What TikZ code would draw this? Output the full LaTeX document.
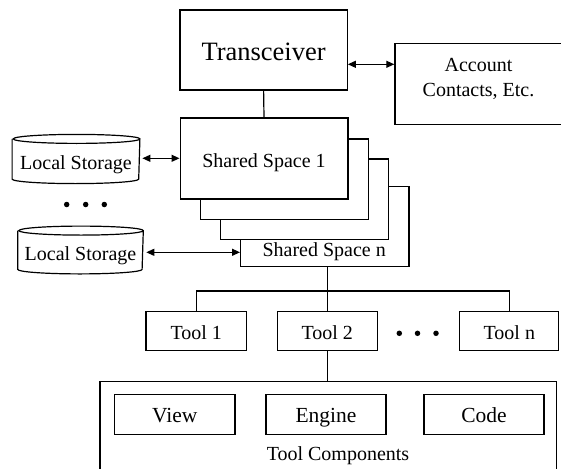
\documentclass[tikz,border=0pt]{standalone}
\usepackage{fontspec}
\setmainfont{Liberation Serif}
\usetikzlibrary{arrows.meta,calc}
\newcommand{\lscyl}[2]{\draw ([yshift=-4.5pt]#1.north west) -- ([yshift=4.5pt]#1.south west) arc[start angle=180,end angle=360,x radius=#2,y radius=4.5pt] -- ([yshift=-4.5pt]#1.north east) arc[start angle=0,end angle=360,x radius=#2,y radius=4.5pt];}
\begin{document}
\begin{tikzpicture}[x=1pt,y=-1pt, line width=1.2pt,
 box/.style={draw, fill=white, rectangle, inner sep=0pt},
 ft/.style={font=\fontsize{20pt}{25pt}\selectfont},
 bigft/.style={font=\fontsize{21.5pt}{26pt}\selectfont, text height=19.8pt, text depth=3pt},
 dbl/.style={{Triangle[length=8pt,width=7pt]}-{Triangle[length=8pt,width=7pt]}},
 dot/.style={circle, fill=black, inner sep=0pt, minimum size=5.5pt}]
\clip (0,0) rectangle (561,468);
% top
\node[box, minimum width=167.3pt, minimum height=80pt, font=\fontsize{26.5pt}{30pt}\selectfont, text height=25pt, text depth=3pt] (trans) at (263.6,50) {Transceiver};
\node[box, minimum width=220pt, minimum height=80.7pt, anchor=north west] (acct) at (394.3,43.3) {};
\node[ft, anchor=base] (acct1) at (478.5,71.7) {Account};
\node[ft, anchor=base] (acct2) at (478.5,96.7) {Contacts, Etc.};
% shared spaces (back to front)
\node[box, minimum width=168.3pt, minimum height=80pt, anchor=north west] (ssn) at (240,185.7) {};
\node[box, minimum width=168.2pt, minimum height=80.7pt, anchor=north west] (ss3) at (219.5,158.3) {};
\node[box, minimum width=168.2pt, minimum height=80.7pt, anchor=north west] (ss2) at (199.5,138.3) {};
\node[box, ft, text height=21.4pt, text depth=3pt, minimum width=167.8pt, minimum height=81pt, anchor=north west] (ss1) at (179.5,117.3) {Shared Space 1};
\node[ft, anchor=base] (ssntxt) at (324.2,256.7) {Shared Space n};
% local storage
\node[ft, text height=23pt, text depth=3pt, minimum width=126.6pt, minimum height=48pt, inner sep=0pt] (ls1) at (76,159) {Local Storage};
\lscyl{ls1}{63.3pt}
\node[ft, text height=23pt, text depth=3pt, minimum width=124.4pt, minimum height=46.6pt, inner sep=0pt] (ls2) at (80.5,250) {Local Storage};
\lscyl{ls2}{62.2pt}
\node[dot] (ld1) at (66.7,204.5) {};
\node[dot] (ld2) at (85.7,204.5) {};
\node[dot] (ld3) at (104.3,204.5) {};
% connectors top
\draw[dbl] ([yshift=-14.3pt]trans.east) -- ([yshift=-14.3pt]trans.east -| acct.west);
\draw (trans.south) -- (ss1.north);
\draw[dbl, shorten <=2.5pt] ([yshift=0.7pt]ls1.east) -- ([yshift=0.7pt]ls1.east -| ss1.west);
\draw[dbl, shorten <=3pt] ([yshift=-2.3pt]ls2.east) -- ([yshift=-2.3pt]ls2.east -| ssn.west);
% tools
\node[box, ft, text height=19.6pt, text depth=3pt, minimum width=100.7pt, minimum height=39.5pt] (tool1) at (196.3,331) {Tool 1};
\node[box, ft, text height=19.6pt, text depth=3pt, minimum width=100pt, minimum height=39.5pt] (tool2) at (327.2,331) {Tool 2};
\node[box, ft, text height=19.6pt, text depth=3pt, minimum width=99pt, minimum height=39.5pt] (tooln) at (509.3,331) {Tool n};
\node[dot] (td1) at (399.3,333.3) {};
\node[dot] (td2) at (417.5,333.3) {};
\node[dot] (td3) at (436,333.3) {};
\coordinate (bus) at (327.2,291);
\draw (ssn.south -| tool2.north) -- (tool2.north);
\draw (tool1.north) |- (bus) -| (tooln.north);
% tool components
\node[box, minimum width=456.7pt, minimum height=120pt, anchor=north west] (tc) at (99.3,381) {};
\draw (tool2.south) -- (tc.north -| tool2.south);
\node[box, bigft, minimum width=120.5pt, minimum height=40pt] (view) at (174.8,414.3) {View};
\node[box, bigft, minimum width=120pt, minimum height=40pt] (engine) at (326,414.3) {Engine};
\node[box, bigft, minimum width=120pt, minimum height=40pt] (code) at (484,414.3) {Code};
\node[ft, anchor=base] (tctxt) at (338,460) {Tool Components};
\end{tikzpicture}
\end{document}
